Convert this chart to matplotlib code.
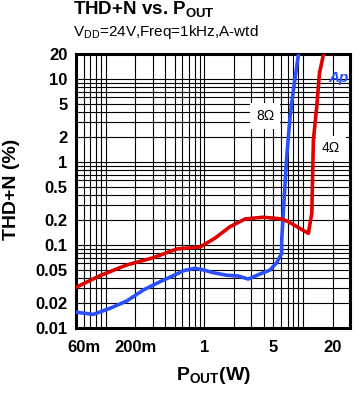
import numpy as np
import matplotlib
matplotlib.use("Agg")
import matplotlib.pyplot as plt
from matplotlib.ticker import LogLocator, NullFormatter

plt.rcParams['font.family'] = ['Liberation Sans', 'DejaVu Sans']
plt.rcParams['mathtext.fontset'] = 'custom'
plt.rcParams['mathtext.rm'] = 'Liberation Sans'
plt.rcParams['mathtext.bf'] = 'Liberation Sans:bold'

# 8 ohm load (blue)
pout_8 = [0.05, 0.075, 0.111, 0.163, 0.241, 0.355, 0.545, 0.612, 0.805, 0.977,
          1.23, 1.69, 2.21, 2.79, 3.67, 4.64, 5.42, 6.09, 6.09, 6.32, 6.85,
          7.40, 8.0, 8.99]
thd_8 = [0.0155, 0.0146, 0.0173, 0.0211, 0.0287, 0.0361, 0.0456, 0.049, 0.0524,
         0.050, 0.0464, 0.0432, 0.0423, 0.0389, 0.0447, 0.050, 0.0612, 0.0794,
         0.115, 0.241, 1.16, 3.51, 7.36, 19.5]

# 4 ohm load (red)
pout_4 = [0.05, 0.0876, 0.163, 0.304, 0.525, 0.905, 1.285, 1.82, 2.59, 3.97,
          6.09, 7.11, 11.35, 12.3, 12.76, 13.8, 14.7, 16.1]
thd_4 = [0.0309, 0.0427, 0.0574, 0.0703, 0.0895, 0.0946, 0.121, 0.166, 0.206,
         0.216, 0.206, 0.191, 0.138, 0.241, 1.84, 4.63, 11.7, 19.5]

x_ticks = [0.06, 0.2, 1, 5, 20]
x_labels = ['60m', '200m', '1', '5', '20']
y_ticks = [0.01, 0.02, 0.05, 0.1, 0.2, 0.5, 1, 2, 5, 10, 20]
y_labels = ['0.01', '0.02', '0.05', '0.1', '0.2', '0.5', '1', '2', '5', '10', '20']

W, H = 355, 397
fig = plt.figure(figsize=(W / 100, H / 100), dpi=100)
ax = fig.add_axes([76 / W, (H - 328) / H, 274 / W, 274 / H])

ax.set_xscale('log')
ax.set_yscale('log')
ax.set_xlim(0.05, 30)
ax.set_ylim(0.01, 20)

ax.set_xticks(x_ticks)
ax.set_xticklabels(x_labels)
ax.set_yticks(y_ticks)
ax.set_yticklabels(y_labels)
ax.xaxis.set_minor_locator(LogLocator(base=10, subs=np.arange(1, 10), numticks=30))
ax.yaxis.set_minor_locator(LogLocator(base=10, subs=np.arange(1, 10), numticks=30))
ax.xaxis.set_minor_formatter(NullFormatter())
ax.yaxis.set_minor_formatter(NullFormatter())

ax.grid(True, which='both', color='k', lw=0.8)
ax.tick_params(which='both', length=0)
ax.tick_params(axis='y', pad=6, labelsize=12)
ax.tick_params(axis='x', pad=9, labelsize=12)
for lab in ax.get_xticklabels() + ax.get_yticklabels():
    lab.set_fontweight('bold')
for s in ax.spines.values():
    s.set_linewidth(2.2)

ax.plot(pout_8, thd_8, color='#2a4fff', lw=2.6, zorder=4, clip_on=True)
ax.plot(pout_4, thd_4, color='#e00000', lw=2.6, zorder=4, clip_on=True)

box = dict(facecolor='white', edgecolor='none', pad=4)
ax.text(4.13, 3.58, '8Ω', fontsize=10, ha='center', va='center', bbox=box, zorder=3)
ax.text(19.3, 1.47, '4Ω', fontsize=10, ha='center', va='center', bbox=box, zorder=3)

# Audio Precision mark, top right corner of the plot
fig.text(349 / W, 1 - 82 / H, 'Ap', color='#2a4fff', fontsize=11,
         fontweight='bold', style='italic', ha='right', va='baseline')

fig.text(73 / W, 1 - 15 / H, r'THD+N vs. P$_\mathbf{OUT}$', fontsize=13.5,
         fontweight='bold', ha='left', va='baseline')
fig.text(73 / W, 1 - 36 / H, r'V$_\mathrm{DD}$=24V,Freq=1kHz,A-wtd', fontsize=11,
         ha='left', va='baseline')

fig.text(213 / W, 1 - 380 / H, r'P$_\mathbf{OUT}$(W)', fontsize=14,
         fontweight='bold', ha='center', va='baseline')
fig.text(12 / W, 1 - 189 / H, 'THD+N (%)', fontsize=14, fontweight='bold',
         rotation=90, ha='center', va='center')

fig.savefig('out.png', dpi=100, facecolor='white')
